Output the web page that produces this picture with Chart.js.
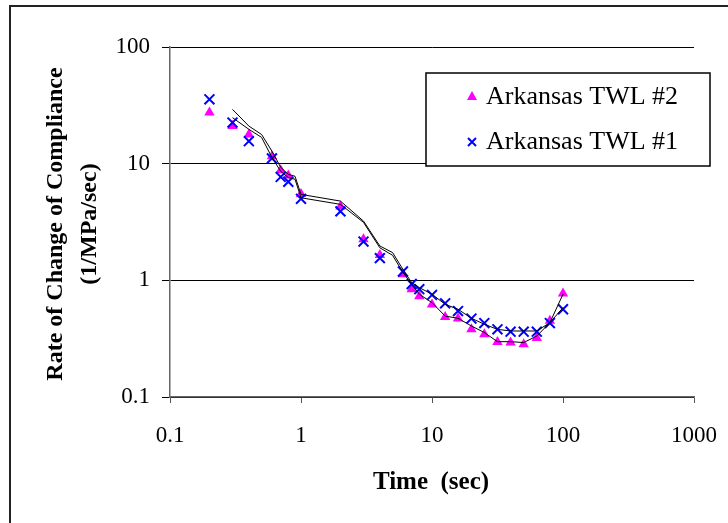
<!DOCTYPE html>
<html>
<head>
<meta charset="utf-8">
<script src="https://cdn.jsdelivr.net/npm/chart.js@4.4.0/dist/chart.umd.min.js"></script>
<style>
  html, body { margin: 0; padding: 0; background: #fff; }
  #wrap { width: 728px; height: 523px; position: relative; }
</style>
</head>
<body>
<div id="wrap"><canvas id="grafico" width="728" height="523"></canvas></div>
<script>
// ===== Dados medidos =====
const tempos = [0.2, 0.3, 0.4, 0.6, 0.7, 0.8, 1, 2, 3, 4, 6, 7, 8, 10,
  12.6, 15.8, 20, 25.1, 31.6, 39.8, 50.1, 63.1, 79.4, 100];
const twl2 = [27.5, 21, 17.8, 11.6, 8.8, 7.9, 5.5, 4.3, 2.25, 1.65, 1.13, 0.84, 0.73, 0.62,
  0.485, 0.47, 0.38, 0.345, 0.296, 0.293, 0.283, 0.32, 0.45, 0.77];
const twl1 = [35.6, 22.5, 15.6, 11.1, 7.7, 7.0, 5.0, 3.9, 2.15, 1.55, 1.19, 0.93, 0.84, 0.75,
  0.635, 0.545, 0.47, 0.43, 0.38, 0.363, 0.363, 0.363, 0.43, 0.565];

// ===== Curvas (linhas pretas) =====
const temposCurva = [0.3, 0.4, 0.5, 0.6, 0.7, 0.8, 0.9, 1, 2, 3, 4, 5, 6, 7, 8, 10,
  12.6, 15.8, 20, 25.1, 31.6, 39.8, 50.1, 63.1, 79.4, 100];
const curvaA = [29.2, 21, 17.8, 12.8, 9.3, 8.1, 7.8, 5.45, 4.78, 3.22, 1.97, 1.73, 1.24, 0.955,
  0.866, 0.76, 0.623, 0.565, 0.473, 0.42, 0.38, 0.368, 0.368, 0.368, 0.434, 0.583];
const curvaB = [24.8, 19.7, 16.8, 11.3, 8.6, 7.6, 7.35, 5.1, 4.48, 3.14, 1.9, 1.64, 1.17, 0.92,
  0.76, 0.644, 0.494, 0.473, 0.406, 0.357, 0.298, 0.298, 0.293, 0.333, 0.434, 0.76];

const ticksX = [0.1, 1, 10, 100, 1000];
const ticksY = [0.1, 1, 10, 100];
const nomes = ["Arkansas TWL #2", "Arkansas TWL #1"];

const serif = "'Liberation Serif', 'Times New Roman', serif";

function pares(xs, ys) {
  return xs.map((x, i) => ({ x: x, y: ys[i] }));
}

// ===== Moldura, legenda e títulos =====
const decoracao = {
  id: "decoracao",
  beforeDraw(chart) {
    const ctx = chart.ctx;
    ctx.save();
    ctx.fillStyle = "#fff";
    ctx.fillRect(0, 0, chart.width, chart.height);
    ctx.strokeStyle = "#222";
    ctx.lineWidth = 2;
    ctx.beginPath();
    ctx.moveTo(10, chart.height);
    ctx.lineTo(10, 6);
    ctx.lineTo(chart.width, 6);
    ctx.stroke();
    ctx.restore();
  },
  afterDraw(chart) {
    const ctx = chart.ctx;
    ctx.save();

    // legenda
    ctx.fillStyle = "#fff";
    ctx.fillRect(426, 73, 284, 93);
    ctx.strokeStyle = "#000";
    ctx.lineWidth = 1.5;
    ctx.strokeRect(426, 73, 284, 93);

    ctx.fillStyle = "#ff00ff";
    ctx.beginPath();
    ctx.moveTo(472, 91);
    ctx.lineTo(477, 100);
    ctx.lineTo(467, 100);
    ctx.closePath();
    ctx.fill();

    ctx.strokeStyle = "#0000ff";
    ctx.lineWidth = 2;
    ctx.beginPath();
    ctx.moveTo(468, 138); ctx.lineTo(476, 146);
    ctx.moveTo(476, 138); ctx.lineTo(468, 146);
    ctx.stroke();

    ctx.fillStyle = "#000";
    ctx.font = "26px " + serif;
    ctx.textAlign = "left";
    ctx.textBaseline = "middle";
    ctx.fillText(nomes[0], 486, 97);
    ctx.fillText(nomes[1], 486, 142);

    // títulos dos eixos
    ctx.font = "bold 25px " + serif;
    ctx.textAlign = "center";
    ctx.fillText("Time  (sec)", 431, 483);

    ctx.font = "bold 24px " + serif;
    ctx.translate(73, 224);
    ctx.rotate(-Math.PI / 2);
    ctx.fillText("Rate of Change of Compliance", 0, -17);
    ctx.fillText("(1/MPa/sec)", 0, 17);
    ctx.restore();
  }
};

// ===== Gráfico =====
new Chart(document.getElementById("grafico"), {
  type: "scatter",
  data: {
    datasets: [
      {
        label: "curvaA", type: "line", data: pares(temposCurva, curvaA), order: 0,
        borderColor: "#000", borderWidth: 1, pointRadius: 0, fill: false, tension: 0
      },
      {
        label: "curvaB", type: "line", data: pares(temposCurva, curvaB), order: 0,
        borderColor: "#000", borderWidth: 1, pointRadius: 0, fill: false, tension: 0
      },
      {
        label: nomes[1], data: pares(tempos, twl1), order: 1,
        pointStyle: "crossRot", pointRadius: 7, pointBorderWidth: 2,
        borderColor: "#0000ff", backgroundColor: "#0000ff"
      },
      {
        label: nomes[0], data: pares(tempos, twl2), order: 2,
        pointStyle: "triangle", pointRadius: 6, pointBorderWidth: 0,
        borderColor: "#ff00ff", backgroundColor: "#ff00ff"
      }
    ]
  },
  options: {
    responsive: false,
    animation: false,
    layout: { padding: { left: 0, top: 47, right: 34, bottom: 0 } },
    plugins: { legend: { display: false }, tooltip: { enabled: false } },
    scales: {
      x: {
        type: "logarithmic", min: 0.1, max: 1000,
        afterBuildTicks: s => { s.ticks = ticksX.map(v => ({ value: v })); },
        afterFit: s => { s.height = 126; s.paddingLeft = 0; s.paddingRight = 0; },
        ticks: {
          font: { family: serif, size: 23 }, color: "#000", padding: 19,
          maxRotation: 0, autoSkip: false,
          callback: v => String(v)
        },
        grid: { drawOnChartArea: false, tickLength: 6, color: "#555" },
        border: { color: "#666", width: 1.5 }
      },
      y: {
        type: "logarithmic", min: 0.1, max: 100,
        afterBuildTicks: s => { s.ticks = ticksY.map(v => ({ value: v })); },
        afterFit: s => { s.width = 170; s.paddingTop = 0; s.paddingBottom = 0; },
        ticks: {
          font: { family: serif, size: 23 }, color: "#000", padding: 12,
          autoSkip: false,
          callback: v => String(v)
        },
        grid: { color: "#000", lineWidth: 1, tickLength: 8 },
        border: { color: "#666", width: 1.5 }
      }
    }
  },
  plugins: [decoracao]
});
</script>
</body>
</html>
